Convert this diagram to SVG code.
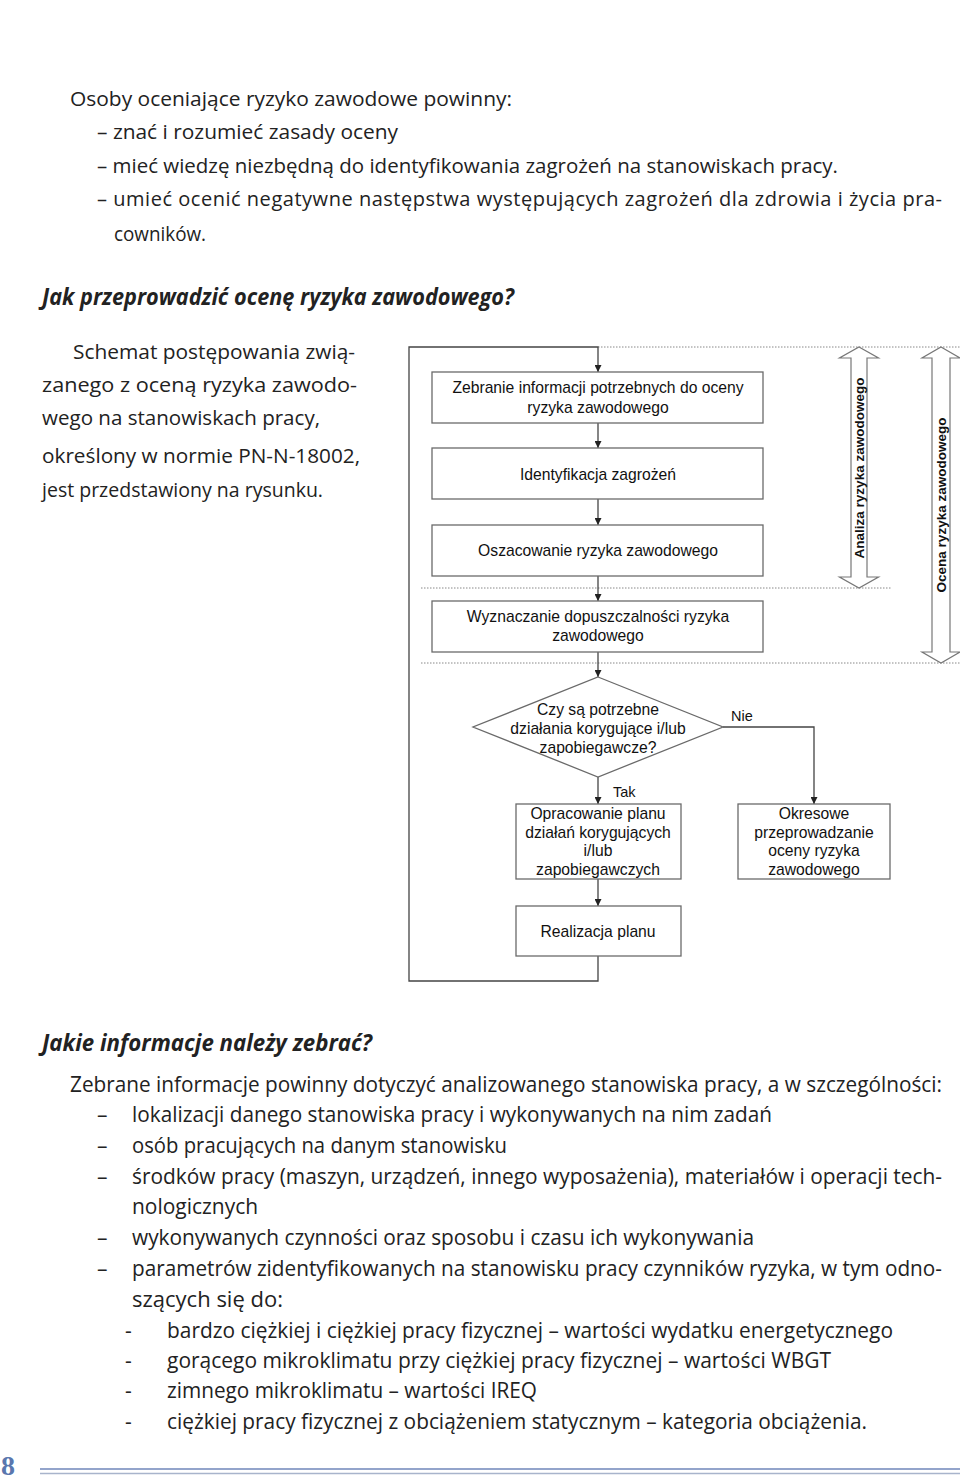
<svg xmlns="http://www.w3.org/2000/svg" width="960" height="1482" viewBox="0 0 960 1482">
<defs>
<marker id="ah" viewBox="0 0 8 8" refX="8" refY="4" markerWidth="7" markerHeight="7" orient="auto" markerUnits="userSpaceOnUse">
<path d="M0,0 L8,4 L0,8 Z" fill="#222"/>
</marker>
<style>
.body{font-family:"Open Sans","Noto Sans",sans-serif;font-size:20px;fill:#222}
.cond{font-family:"Open Sans","Noto Sans",sans-serif;font-size:21px;fill:#222}
.head{font-family:"Open Sans","Noto Sans",sans-serif;font-size:23px;font-weight:bold;font-style:italic;fill:#222}
.fc{font-family:"Liberation Sans",Arial,sans-serif;font-size:15.7px;fill:#111;text-anchor:middle}
.lbl{font-family:"Liberation Sans",Arial,sans-serif;font-size:14.5px;fill:#111}
.vt{font-family:"Liberation Sans",Arial,sans-serif;font-size:13.5px;font-weight:bold;fill:#111;text-anchor:middle}
.box{fill:#fff;stroke:#6a6a6a;stroke-width:1.3}
.con{fill:none;stroke:#444;stroke-width:1.3}
.dot{fill:none;stroke:#888;stroke-width:1;stroke-dasharray:1.5 1.5}
.dbl{fill:#fff;stroke:#777;stroke-width:1.2}
</style>
</defs>
<rect width="960" height="1482" fill="#fff"/>

<g id="intro">
<text class="body" x="70" y="106" textLength="442" lengthAdjust="spacingAndGlyphs">Osoby oceniające ryzyko zawodowe powinny:</text>
<text class="body" x="97" y="139" textLength="301" lengthAdjust="spacingAndGlyphs">– znać i rozumieć zasady oceny</text>
<text class="body" x="97" y="173" textLength="741" lengthAdjust="spacingAndGlyphs">– mieć wiedzę niezbędną do identyfikowania zagrożeń na stanowiskach pracy.</text>
<text class="body" x="97" y="206" textLength="845" lengthAdjust="spacing">– umieć ocenić negatywne następstwa występujących zagrożeń dla zdrowia i życia pra-</text>
<text class="body" x="114" y="241" textLength="92" lengthAdjust="spacingAndGlyphs">cowników.</text>
<text class="head" x="42" y="305" textLength="472" lengthAdjust="spacingAndGlyphs">Jak przeprowadzić ocenę ryzyka zawodowego?</text>
</g>

<g id="side-text">
<text class="body" x="73" y="359" textLength="282" lengthAdjust="spacingAndGlyphs">Schemat postępowania zwią-</text>
<text class="body" x="42" y="392" textLength="315" lengthAdjust="spacingAndGlyphs">zanego z oceną ryzyka zawodo-</text>
<text class="body" x="42" y="425" textLength="278" lengthAdjust="spacingAndGlyphs">wego na stanowiskach pracy,</text>
<text class="body" x="42" y="463" textLength="318" lengthAdjust="spacingAndGlyphs">określony w normie PN-N-18002,</text>
<text class="body" x="42" y="497" textLength="281" lengthAdjust="spacingAndGlyphs">jest przedstawiony na rysunku.</text>
</g>

<g id="connectors">
<path class="dot" d="M598,347 H960"/>
<path class="dot" d="M421,588 H891"/>
<path class="dot" d="M421,663 H960"/>
<path class="con" d="M598,956 V981 H409 V347 H598 V372" marker-end="url(#ah)"/>
<path class="con" d="M598,423 V448" marker-end="url(#ah)"/>
<path class="con" d="M598,499 V525" marker-end="url(#ah)"/>
<path class="con" d="M598,576 V601" marker-end="url(#ah)"/>
<path class="con" d="M598,652 V677" marker-end="url(#ah)"/>
<path class="con" d="M598,777 V804" marker-end="url(#ah)"/>
<path class="con" d="M598,879 V906" marker-end="url(#ah)"/>
<path class="con" d="M723,727 H814 V804" marker-end="url(#ah)"/>
<text class="lbl" x="731" y="721">Nie</text>
<text class="lbl" x="613" y="797">Tak</text>
</g>

<g id="n-zebranie">
<rect class="box" x="432" y="372" width="331" height="51"/>
<text class="fc" x="598" y="393">Zebranie informacji potrzebnych do oceny</text>
<text class="fc" x="598" y="413">ryzyka zawodowego</text>
</g>
<g id="n-identyfikacja">
<rect class="box" x="432" y="448" width="331" height="51"/>
<text class="fc" x="598" y="480">Identyfikacja zagrożeń</text>
</g>
<g id="n-oszacowanie">
<rect class="box" x="432" y="525" width="331" height="51"/>
<text class="fc" x="598" y="556">Oszacowanie ryzyka zawodowego</text>
</g>
<g id="n-wyznaczanie">
<rect class="box" x="432" y="601" width="331" height="51"/>
<text class="fc" x="598" y="622">Wyznaczanie dopuszczalności ryzyka</text>
<text class="fc" x="598" y="641">zawodowego</text>
</g>
<g id="n-decyzja">
<polygon class="box" points="598,677 723,727 598,777 473,727"/>
<text class="fc" x="598" y="715">Czy są potrzebne</text>
<text class="fc" x="598" y="734">działania korygujące i/lub</text>
<text class="fc" x="598" y="753">zapobiegawcze?</text>
</g>
<g id="n-opracowanie">
<rect class="box" x="516" y="804" width="165" height="75"/>
<text class="fc" x="598" y="819">Opracowanie planu</text>
<text class="fc" x="598" y="838">działań korygujących</text>
<text class="fc" x="598" y="856">i/lub</text>
<text class="fc" x="598" y="875">zapobiegawczych</text>
</g>
<g id="n-okresowe">
<rect class="box" x="738" y="804" width="152" height="75"/>
<text class="fc" x="814" y="819">Okresowe</text>
<text class="fc" x="814" y="838">przeprowadzanie</text>
<text class="fc" x="814" y="856">oceny ryzyka</text>
<text class="fc" x="814" y="875">zawodowego</text>
</g>
<g id="n-realizacja">
<rect class="box" x="516" y="906" width="165" height="50"/>
<text class="fc" x="598" y="937">Realizacja planu</text>
</g>
<g id="n-analiza">
<polygon class="dbl" points="859,347 878.5,358 867,358 867,577 878.5,577 859,588 839.5,577 851,577 851,358 839.5,358"/>
<text class="vt" transform="translate(864,468) rotate(-90)">Analiza ryzyka zawodowego</text>
</g>
<g id="n-ocena">
<polygon class="dbl" points="941,347 960,358 950,358 950,652 960,652 941,663 922,652 932,652 932,358 922,358"/>
<text class="vt" transform="translate(946,505) rotate(-90)">Ocena ryzyka zawodowego</text>
</g>

<g id="info-text">
<text class="head" x="42" y="1051" textLength="330" lengthAdjust="spacingAndGlyphs">Jakie informacje należy zebrać?</text>
<text class="cond" x="70" y="1092" textLength="872" lengthAdjust="spacingAndGlyphs">Zebrane informacje powinny dotyczyć analizowanego stanowiska pracy, a w szczególności:</text>
<text class="cond" x="97" y="1122">–</text>
<text class="cond" x="132" y="1122" textLength="640" lengthAdjust="spacingAndGlyphs">lokalizacji danego stanowiska pracy i wykonywanych na nim zadań</text>
<text class="cond" x="97" y="1153">–</text>
<text class="cond" x="132" y="1153" textLength="375" lengthAdjust="spacingAndGlyphs">osób pracujących na danym stanowisku</text>
<text class="cond" x="97" y="1184">–</text>
<text class="cond" x="132" y="1184" textLength="810" lengthAdjust="spacingAndGlyphs">środków pracy (maszyn, urządzeń, innego wyposażenia), materiałów i operacji tech-</text>
<text class="cond" x="132" y="1214" textLength="126" lengthAdjust="spacingAndGlyphs">nologicznych</text>
<text class="cond" x="97" y="1245">–</text>
<text class="cond" x="132" y="1245" textLength="622" lengthAdjust="spacingAndGlyphs">wykonywanych czynności oraz sposobu i czasu ich wykonywania</text>
<text class="cond" x="97" y="1276">–</text>
<text class="cond" x="132" y="1276" textLength="810" lengthAdjust="spacingAndGlyphs">parametrów zidentyfikowanych na stanowisku pracy czynników ryzyka, w tym odno-</text>
<text class="cond" x="132" y="1307" textLength="151" lengthAdjust="spacingAndGlyphs">szących się do:</text>
<text class="cond" x="125" y="1338">-</text>
<text class="cond" x="167" y="1338" textLength="726" lengthAdjust="spacingAndGlyphs">bardzo ciężkiej i ciężkiej pracy fizycznej – wartości wydatku energetycznego</text>
<text class="cond" x="125" y="1368">-</text>
<text class="cond" x="167" y="1368" textLength="664" lengthAdjust="spacingAndGlyphs">gorącego mikroklimatu przy ciężkiej pracy fizycznej – wartości WBGT</text>
<text class="cond" x="125" y="1398">-</text>
<text class="cond" x="167" y="1398" textLength="370" lengthAdjust="spacingAndGlyphs">zimnego mikroklimatu – wartości IREQ</text>
<text class="cond" x="125" y="1429">-</text>
<text class="cond" x="167" y="1429" textLength="700" lengthAdjust="spacingAndGlyphs">ciężkiej pracy fizycznej z obciążeniem statycznym – kategoria obciążenia.</text>
</g>

<g id="footer">
<text x="1" y="1475" font-family="Liberation Serif,serif" font-size="28" font-weight="bold" fill="#5a77ae">8</text>
<line x1="40" y1="1469" x2="960" y2="1469" stroke="#6f86ba" stroke-width="1.5"/>
<line x1="40" y1="1473.5" x2="960" y2="1473.5" stroke="#a8b4cc" stroke-width="1.5"/>
</g>
</svg>
